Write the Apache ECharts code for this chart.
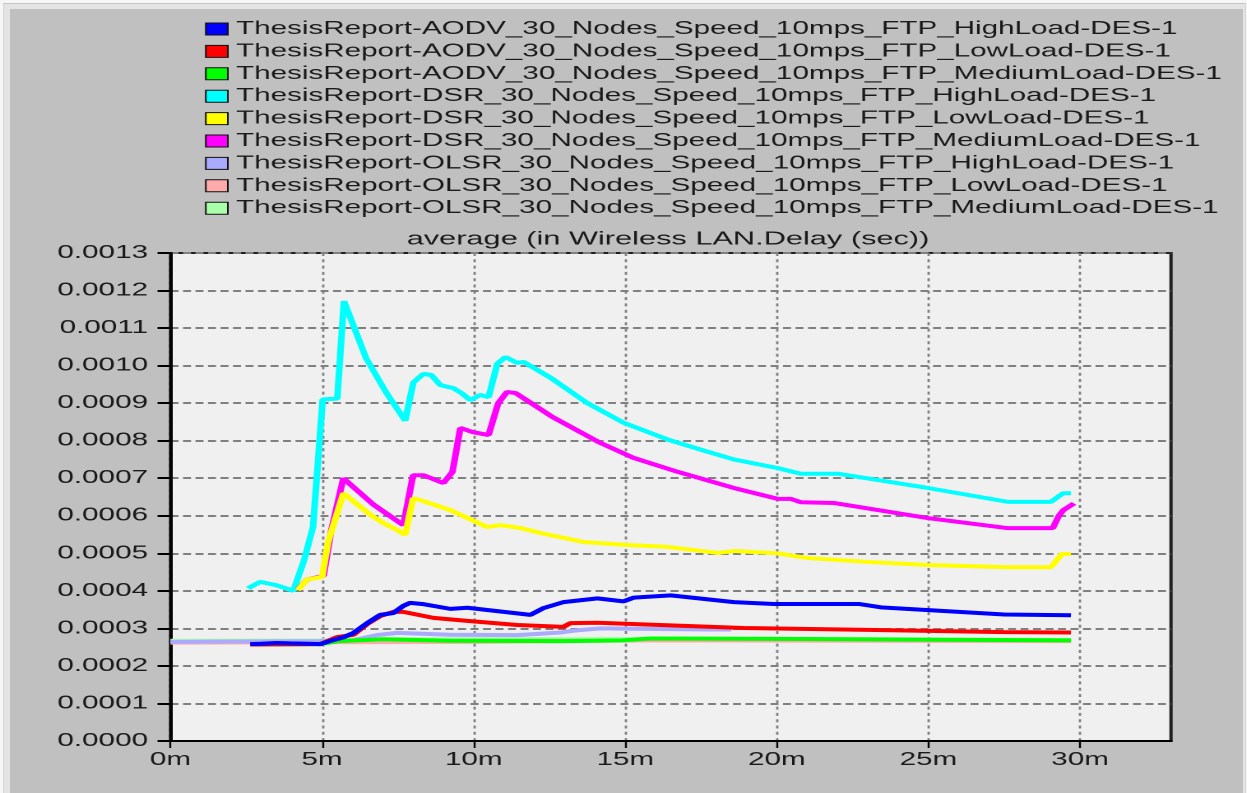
<!DOCTYPE html>
<html>
<head>
<meta charset="utf-8">
<title>average (in Wireless LAN.Delay (sec))</title>
<script src="https://cdn.jsdelivr.net/npm/echarts@6/dist/echarts.min.js"></script>
<style>
  html, body { margin: 0; padding: 0; background: #f6f6f6; overflow: hidden; width: 1247px; height: 793px; }
  #frame { position: absolute; left: 3px; top: 3px; width: 1241px; height: 790px; background: #e4e4e4;
           border-top: 1px solid #c6c6c6; border-left: 1px solid #d6d6d6; border-right: 1px solid #d6d6d6; }
  #panel { position: absolute; left: 10px; top: 9px; width: 1233px; height: 784px; background: #c0c0c0; }
  #chart { position: absolute; left: 0; top: 0; height: 793px; transform-origin: 0 0; }
</style>
</head>
<body>
<div id="frame"></div>
<div id="panel"></div>
<div id="chart"></div>
<script>
// Time (minutes) vs. average WLAN delay (seconds), one array per scenario.
const aodvHigh = [[2.63,0.000258],[3.0,0.000259],[3.5,0.000261],[3.95,0.00026],[4.5,0.000259],[4.94,0.000258],[5.37,0.000269],[5.7,0.000276],[6.04,0.000288],[6.49,0.000314],[6.92,0.000336],[7.35,0.000341],[7.68,0.00036],[7.9,0.000368],[8.3,0.000365],[9.23,0.000352],[9.79,0.000355],[11.87,0.000336],[12.3,0.000354],[12.96,0.00037],[14.08,0.00038],[14.94,0.000372],[15.28,0.000382],[16.5,0.000388],[18.58,0.00037],[19.9,0.000365],[22.7,0.000365],[23.43,0.000356],[27.5,0.000337],[29.7,0.000335]];
const aodvLow = [[2.63,0.000257],[4.94,0.000258],[5.5,0.000277],[6.03,0.000283],[6.49,0.000312],[6.92,0.000333],[7.35,0.000344],[7.68,0.000344],[8.67,0.000328],[9.79,0.00032],[11.44,0.000309],[12.96,0.000304],[13.19,0.000314],[14.08,0.000315],[18.9,0.000301],[23.0,0.000296],[27.5,0.00029],[29.7,0.000289]];
const aodvMedium = [[2.63,0.000257],[4.94,0.000258],[5.5,0.000266],[7.0,0.000271],[9.23,0.000267],[12.96,0.000266],[14.9,0.000268],[15.84,0.000273],[20.0,0.000272],[27.5,0.000269],[29.7,0.000268]];
const dsrHigh = [[2.56,0.000407],[2.96,0.000424],[3.5,0.000415],[4.05,0.0004],[4.4,0.00048],[4.7,0.00057],[5.02,0.00091],[5.5,0.000912],[5.72,0.001172],[6.45,0.00102],[7.1,0.00093],[7.74,0.000853],[8.01,0.000955],[8.34,0.000978],[8.6,0.000975],[8.9,0.000948],[9.33,0.00094],[9.63,0.000925],[9.89,0.000908],[10.22,0.000922],[10.49,0.000916],[10.78,0.001005],[11.05,0.001023],[11.44,0.001007],[11.64,0.00101],[12.53,0.000968],[13.75,0.0009],[14.94,0.000848],[16.4,0.000803],[17.49,0.000776],[18.58,0.00075],[20.03,0.000727],[20.79,0.000712],[22.01,0.000712],[24.98,0.000674],[27.62,0.000637],[29.04,0.000637],[29.44,0.00066],[29.7,0.00066]];
const dsrLow = [[4.2,0.000402],[4.5,0.00043],[5.0,0.000437],[5.2,0.00053],[5.7,0.00066],[6.6,0.000602],[7.03,0.00058],[7.48,0.000562],[7.74,0.000549],[8.0,0.000647],[8.3,0.00064],[9.23,0.000615],[10.44,0.00057],[10.88,0.000575],[11.5,0.000568],[12.2,0.000554],[13.62,0.00053],[15.07,0.000522],[16.4,0.000517],[18.05,0.000501],[18.58,0.000506],[20.03,0.0005],[20.79,0.00049],[21.1,0.000487],[23.0,0.000477],[24.98,0.000469],[27.62,0.000463],[29.04,0.000463],[29.4,0.000498],[29.7,0.000498]];
const dsrMedium = [[4.2,0.000404],[4.5,0.00043],[5.05,0.00044],[5.3,0.00056],[5.7,0.0007],[6.69,0.00063],[7.68,0.000575],[8.0,0.000708],[8.34,0.000708],[9.0,0.000687],[9.3,0.000717],[9.56,0.000834],[9.96,0.000823],[10.49,0.000815],[10.81,0.0009],[11.1,0.00093],[11.38,0.000927],[12.6,0.000863],[14.18,0.000794],[15.28,0.000754],[16.73,0.000717],[18.58,0.000674],[20.03,0.000645],[20.46,0.000645],[20.79,0.000636],[21.9,0.000634],[24.98,0.000594],[27.62,0.000567],[29.1,0.000567],[29.3,0.0006],[29.45,0.000615],[29.8,0.000633]];
const olsrHigh = [[0,0.000264],[2.0,0.000265],[4.94,0.000266],[6.0,0.000268],[6.8,0.000282],[7.48,0.000288],[9.23,0.000283],[11.44,0.000282],[12.86,0.000289],[13.3,0.000294],[14.18,0.0003],[17.72,0.000297],[18.5,0.000297]];
const olsrLow = [[0,0.000262],[5.0,0.000263],[10.0,0.000264],[15.84,0.000268],[29.7,0.000266]];
const olsrMedium = [[0,0.000267],[4.94,0.000268],[7.0,0.000271],[15.84,0.000272],[29.7,0.000269]];

const seriesNames = [
  'ThesisReport-AODV_30_Nodes_Speed_10mps_FTP_HighLoad-DES-1',
  'ThesisReport-AODV_30_Nodes_Speed_10mps_FTP_LowLoad-DES-1',
  'ThesisReport-AODV_30_Nodes_Speed_10mps_FTP_MediumLoad-DES-1',
  'ThesisReport-DSR_30_Nodes_Speed_10mps_FTP_HighLoad-DES-1',
  'ThesisReport-DSR_30_Nodes_Speed_10mps_FTP_LowLoad-DES-1',
  'ThesisReport-DSR_30_Nodes_Speed_10mps_FTP_MediumLoad-DES-1',
  'ThesisReport-OLSR_30_Nodes_Speed_10mps_FTP_HighLoad-DES-1',
  'ThesisReport-OLSR_30_Nodes_Speed_10mps_FTP_LowLoad-DES-1',
  'ThesisReport-OLSR_30_Nodes_Speed_10mps_FTP_MediumLoad-DES-1'
];
const seriesData = [aodvHigh, aodvLow, aodvMedium, dsrHigh, dsrLow, dsrMedium, olsrHigh, olsrLow, olsrMedium];
const seriesColors = ['#0000ff', '#ff0000', '#00ff00', '#00ffff', '#ffff00', '#ff00ff', '#aaaaff', '#ffaaaa', '#aaffaa'];
// Paint order: OLSR underneath, then DSR, AODV on top.
const paintOrder = [8, 7, 6, 3, 5, 4, 2, 1, 0];

const xTicks = [0, 5, 10, 15, 20, 25, 30];
const chartTitle = 'average (in Wireless LAN.Delay (sec))';

// The panel uses a wide, horizontally stretched face: the chart is laid out
// in narrow units and stretched by SX.
const SX = 1.645;
const sx = p => p / SX;
const FONT = "'Liberation Sans', Arial, Helvetica, sans-serif";
const INK = '#1a1a1a';

const el = document.getElementById('chart');
el.style.width = (1247 / SX) + 'px';
el.style.transform = 'scaleX(' + SX + ')';

const chart = echarts.init(el, null, { renderer: 'canvas', devicePixelRatio: 2 });

chart.setOption({
  animation: false,
  backgroundColor: 'transparent',
  title: {
    text: chartTitle,
    left: sx(668),
    top: 230,
    padding: 0,
    textAlign: 'center',
    textStyle: { fontFamily: FONT, fontSize: 18.7, fontWeight: 'normal', color: INK }
  },
  legend: {
    orient: 'vertical',
    left: sx(205),
    top: 20,
    padding: 0,
    itemWidth: sx(22),
    itemHeight: 12,
    itemGap: 4.4,
    icon: 'rect',
    selectedMode: false,
    data: seriesNames,
    itemStyle: { borderColor: '#111', borderWidth: 1 },
    textStyle: { fontFamily: FONT, fontSize: 18, lineHeight: 18, color: INK }
  },
  grid: {
    left: sx(170.5),
    top: 253,
    width: sx(1171 - 170.5),
    height: 488,
    show: true,
    backgroundColor: '#f0f0f0',
    borderColor: '#202020',
    borderWidth: 2,
    containLabel: false
  },
  xAxis: {
    type: 'value',
    min: 0,
    max: 33,
    interval: 5,
    axisLine: { show: true, onZero: false, lineStyle: { color: '#000', width: 2 } },
    axisTick: { show: true, length: 7, customValues: xTicks, lineStyle: { color: '#000', width: 1.2 } },
    axisLabel: {
      customValues: xTicks,
      margin: 10,
      fontFamily: FONT, fontSize: 18, color: INK,
      formatter: v => v + 'm'
    },
    splitLine: { show: true, lineStyle: { color: '#808080', width: 1.4, type: [3, 3.3] } }
  },
  yAxis: {
    type: 'value',
    min: 0,
    max: 0.0013,
    interval: 0.0001,
    axisLine: { show: true, lineStyle: { color: '#000', width: 2 } },
    axisTick: { show: true, length: sx(13), lineStyle: { color: '#000', width: 2 } },
    axisLabel: {
      margin: sx(22.5),
      fontFamily: FONT, fontSize: 18, color: INK,
      formatter: v => v.toFixed(4)
    },
    splitLine: { show: true, lineStyle: { color: '#808080', width: 2, type: [sx(8), sx(4.5)] } }
  },
  series: paintOrder.map(i => ({
    name: seriesNames[i],
    type: 'line',
    data: seriesData[i],
    showSymbol: false,
    symbol: 'none',
    color: seriesColors[i],
    itemStyle: { color: seriesColors[i] },
    lineStyle: { color: seriesColors[i], width: 4 },
    emphasis: { disabled: true },
    silent: true
  }))
});
</script>
</body>
</html>
